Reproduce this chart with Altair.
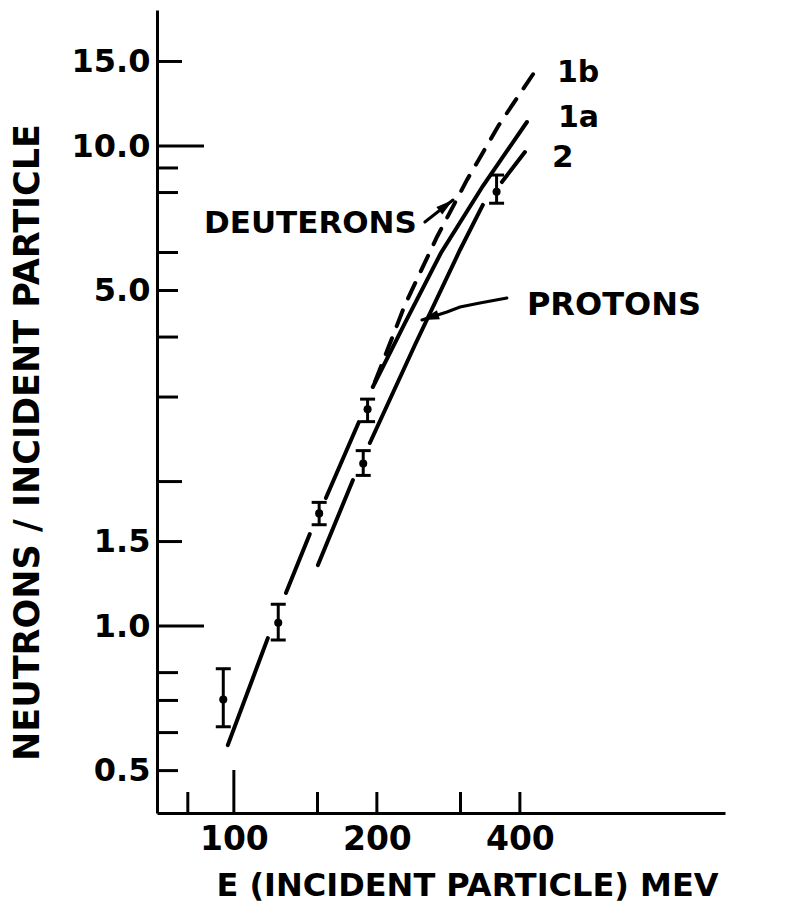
import altair as alt
import pandas as pd

FONT = "DejaVu Sans"

# ---------------- values ----------------
# Curve 1a (solid); the drawing is interrupted at the measured points
C1A_SEG = [0, 0, 1, 1, 2, 2, 3, 3, 3, 3, 3]
C1A_E = [97.1, 117.9, 128.7, 144.5, 156.2, 183.3, 196.1, 229.1, 272.8, 334.3, 413.9]
C1A_N = [0.565, 0.944, 1.172, 1.555, 1.848, 2.661, 3.148, 4.278, 5.986, 8.254, 11.22]

# Curve 2 (solid, lower)
C2_SEG = [0, 0, 1, 1, 1, 1, 2, 2]
C2_E = [150.3, 178.1, 193.3, 240.5, 299.2, 334.3, 366.6, 409.9]
C2_N = [1.340, 2.015, 2.406, 3.850, 6.073, 7.538, 8.414, 9.716]

# Curve 1b (dashed, deuterons)
C1B_E = [198.1, 229.1, 267.6, 309.5, 361.3, 432.3]
C1B_N = [3.224, 4.665, 6.464, 8.498, 11.06, 14.40]

# Measured points with error bars
PT_E = [95.0, 124.0, 151.2, 187.2, 191.2, 357.3]
PT_N = [0.703, 1.016, 1.717, 2.18, 2.83, 8.03]
PT_LO = [0.617, 0.935, 1.626, 2.06, 2.666, 7.60]
PT_HI = [0.815, 1.11, 1.81, 2.32, 2.97, 8.70]

# Pointer arrows (tail -> tip)
DEUT_ARROW_E = [252.4, 289.2]
DEUT_ARROW_N = [6.946, 7.718]
PROT_ARROW_E = [375.6, 329.5, 299.2, 280.9, 248.8]
PROT_ARROW_N = [4.825, 4.710, 4.620, 4.511, 4.340]

# Axes
X_DOMAIN = [68.9, 1081]
Y_DOMAIN = [0.408, 19.2]
X_LABELS = [100, 200, 400]
Y_LABELS = [0.5, 1.0, 1.5, 5.0, 10.0, 15.0]
X_TICKS_LONG = [100]
X_TICKS_SHORT = [80, 150, 200, 300, 400]
Y_TICKS_LONG = [1, 10]
Y_TICKS_MID = [1.5, 2, 15]
Y_TICKS_SHORT = [0.5, 0.6, 0.7, 0.8, 3, 4, 5, 6, 8, 9]

W, H = 568, 803

# ---------------- tables ----------------
solid_rows = []
i = 0
for name, segs, es, ns in [("1a", C1A_SEG, C1A_E, C1A_N), ("2", C2_SEG, C2_E, C2_N)]:
    for s, e, n in zip(segs, es, ns):
        solid_rows.append({"seg": f"{name}-{s}", "e": e, "n": n, "i": i})
        i += 1
solid_df = pd.DataFrame(solid_rows)
dash_df = pd.DataFrame({"e": C1B_E, "n": C1B_N, "i": range(len(C1B_E))})
pts_df = pd.DataFrame({"e": PT_E, "n": PT_N, "lo": PT_LO, "hi": PT_HI})

arrow_rows = []
for name, es, ns in [("d", DEUT_ARROW_E, DEUT_ARROW_N), ("p", PROT_ARROW_E, PROT_ARROW_N)]:
    for k, (e, n) in enumerate(zip(es, ns)):
        arrow_rows.append({"arrow": name, "e": e, "n": n, "i": k})
arrow_df = pd.DataFrame(arrow_rows)

xscale = alt.Scale(type="log", domain=X_DOMAIN)
yscale = alt.Scale(type="log", domain=Y_DOMAIN)

xaxis = alt.Axis(
    values=X_LABELS, format="d", title="E (INCIDENT PARTICLE) MEV",
    labelFontSize=33, labelPadding=10, titleFontSize=32,
    titleX=310, titleY=82, titleBaseline="alphabetic",
)
yaxis = alt.Axis(
    values=Y_LABELS, format=".1f", title="NEUTRONS / INCIDENT PARTICLE",
    labelFontSize=32, labelPadding=7, labelBaseline="middle", titleFontSize=35,
    titleX=-119, titleY=432, titleBaseline="alphabetic",
)

def X(field="e"):
    return alt.X(f"{field}:Q", scale=xscale, axis=xaxis)

def Y(field="n"):
    return alt.Y(f"{field}:Q", scale=yscale, axis=yaxis)

solid = alt.Chart(solid_df).mark_line(color="black", strokeWidth=4, strokeCap="round").encode(
    x=X(), y=Y(), detail="seg:N", order="i:Q"
)
dashed = alt.Chart(dash_df).mark_line(
    color="black", strokeWidth=4, strokeDash=[17, 13], strokeCap="round"
).encode(x=X(), y=Y(), order="i:Q")

bars = alt.Chart(pts_df).mark_rule(color="black", strokeWidth=3).encode(
    x=X(), y=Y("lo"), y2=alt.Y2("hi:Q")
)
cap_lo = alt.Chart(pts_df).mark_tick(color="black", orient="horizontal", size=15, thickness=3, opacity=1).encode(
    x=X(), y=Y("lo")
)
cap_hi = alt.Chart(pts_df).mark_tick(color="black", orient="horizontal", size=15, thickness=3, opacity=1).encode(
    x=X(), y=Y("hi")
)
dots = alt.Chart(pts_df).mark_circle(color="black", size=65, opacity=1).encode(x=X(), y=Y())

arrows = alt.Chart(arrow_df).mark_line(color="black", strokeWidth=3, strokeCap="round").encode(
    x=X(), y=Y(), detail="arrow:N", order="i:Q"
)

HEAD = "M0,0L0.55,2L-0.55,2Z"
heads = []
for es, ns, ang in [(DEUT_ARROW_E, DEUT_ARROW_N, 52), (PROT_ARROW_E, PROT_ARROW_N, 252)]:
    hdf = pd.DataFrame({"e": [es[-1]], "n": [ns[-1]]})
    heads.append(
        alt.Chart(hdf).mark_point(shape=HEAD, filled=True, color="black", size=300, opacity=1, angle=ang)
        .encode(x=X(), y=Y())
    )

# axis ticks drawn inward
tick_layers = []
for vals, length in [(Y_TICKS_LONG, 47), (Y_TICKS_MID, 25), (Y_TICKS_SHORT, 21)]:
    tick_layers.append(
        alt.Chart(pd.DataFrame({"v": vals})).mark_rule(color="black", strokeWidth=3).encode(
            y=Y("v"), x=alt.value(0), x2=alt.value(length)
        )
    )
for vals, length in [(X_TICKS_LONG, 43), (X_TICKS_SHORT, 21)]:
    tick_layers.append(
        alt.Chart(pd.DataFrame({"v": vals})).mark_rule(color="black", strokeWidth=3).encode(
            x=X("v"), y=alt.value(H), y2=alt.value(H - length)
        )
    )

# labels attached to curve ends / arrow tails
LABELS = [
    ("1b", C1B_E[-1], C1B_N[-1], 21, 12, "left", 30),
    ("1a", C1A_E[-1], C1A_N[-1], 31, 5, "left", 30),
    ("2", C2_E[-1], C2_N[-1], 27, 15, "left", 31),
    ("DEUTERONS", DEUT_ARROW_E[0], DEUT_ARROW_N[0], -8, 11, "right", 31),
    ("PROTONS", PROT_ARROW_E[0], PROT_ARROW_N[0], 20, 17, "left", 32),
]
texts = []
for txt, e, n, dx, dy, al, fs in LABELS:
    tdf = pd.DataFrame({"e": [e], "n": [n], "t": [txt]})
    texts.append(
        alt.Chart(tdf).mark_text(
            font=FONT, fontWeight="bold", fontSize=fs, color="black",
            align=al, baseline="alphabetic", dx=dx, dy=dy
        ).encode(x=X(), y=Y(), text="t:N")
    )

chart = alt.layer(
    solid, dashed, bars, cap_lo, cap_hi, dots, arrows, *heads, *tick_layers, *texts
).properties(
    width=W, height=H,
    autosize=alt.AutoSizeParams(type="none"),
    padding={"left": 149, "top": 2, "right": 60, "bottom": 90},
    background="white",
).configure_view(stroke=None).configure_axis(
    grid=False, ticks=False, tickSize=0, domainColor="black", domainWidth=3,
    labelFont=FONT, labelFontWeight="bold", labelColor="black",
    titleFont=FONT, titleFontWeight="bold", titleColor="black",
)

chart.save("out.html", embed_options={"renderer": "svg", "actions": False})
